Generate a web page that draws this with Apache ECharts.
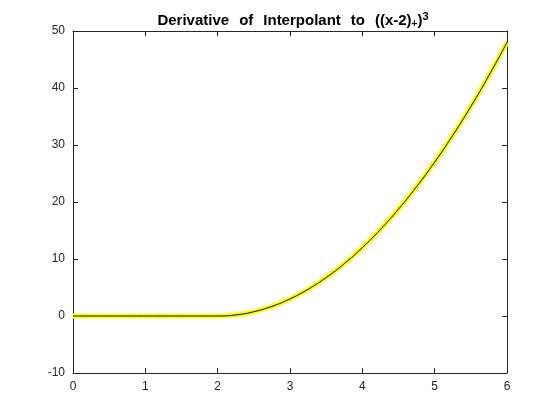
<!DOCTYPE html>
<html>
<head>
<meta charset="utf-8">
<script src="https://cdn.jsdelivr.net/npm/echarts@6/dist/echarts.min.js"></script>
<style>
  html, body { margin: 0; padding: 0; background: #fff; }
  #chart { width: 560px; height: 420px; }
</style>
</head>
<body>
<div id="chart"></div>
<script>
// x samples and the derivative values
const xs = [0, 0.25, 0.5, 0.75, 1, 1.25, 1.5, 1.75, 2, 2.25, 2.5, 2.75, 3, 3.25, 3.5, 3.75, 4, 4.25, 4.5, 4.75, 5, 5.25, 5.5, 5.75, 6];
const ys = [0, 0, 0, 0, 0, 0, 0, 0, 0, 0.19, 0.75, 1.69, 3, 4.69, 6.75, 9.19, 12, 15.19, 18.75, 22.69, 27, 31.69, 36.75, 42.19, 48];
const xTicks = [0, 1, 2, 3, 4, 5, 6];
const yTicks = [-10, 0, 10, 20, 30, 40, 50];

const pts = xs.map((x, i) => [x, ys[i]]);
const axisCol = '#262626';
const font = 'Liberation Sans, Arial, sans-serif';

const chart = echarts.init(document.getElementById('chart'));

const baseX = {
  type: 'value', min: 0, max: 6, interval: 1,
  axisLine: { show: true, onZero: false, lineStyle: { color: axisCol, width: 1 } },
  axisTick: { show: true, inside: true, length: 5, lineStyle: { color: axisCol } },
  splitLine: { show: false }
};
const baseY = {
  type: 'value', min: -10, max: 50, interval: 10,
  axisLine: { show: true, onZero: false, lineStyle: { color: axisCol, width: 1 } },
  axisTick: { show: true, inside: true, length: 5, lineStyle: { color: axisCol } },
  splitLine: { show: false }
};

chart.setOption({
  animation: false,
  title: {
    text: '{t|Derivative}{g| }{t|of}{g| }{t|Interpolant}{g| }{t|to}{g| }{t|((x-2)}{sub|+}{t|)}{sup|3}',
    left: 288, top: 6, textAlign: 'center',
    textStyle: {
      rich: {
        t: { fontFamily: font, fontSize: 15, fontWeight: 'bold', color: '#000' },
        g: { fontFamily: font, fontSize: 15, width: 10 },
        sub: { fontFamily: font, fontSize: 10, fontWeight: 'bold', color: '#000', padding: [7, 0, 0, 0] },
        sup: { fontFamily: font, fontSize: 11, color: '#000', padding: [0, 0, 9, 0] }
      }
    }
  },
  grid: { left: 73, right: 53, top: 31, bottom: 47, show: false },
  xAxis: [
    Object.assign({}, baseX, {
      position: 'bottom',
      axisLabel: { color: axisCol, fontFamily: font, fontSize: 12, margin: 8, formatter: v => xTicks.includes(v) ? v : '' }
    }),
    Object.assign({}, baseX, { position: 'top', axisLabel: { show: false } })
  ],
  yAxis: [
    Object.assign({}, baseY, {
      position: 'left',
      axisLabel: { color: axisCol, fontFamily: font, fontSize: 12, margin: 8, formatter: v => yTicks.includes(v) ? v : '' }
    }),
    Object.assign({}, baseY, { position: 'right', axisLabel: { show: false } })
  ],
  series: [
    {
      type: 'line', data: pts, smooth: true, showSymbol: false,
      lineStyle: { color: '#ffff00', width: 5 }, z: 2
    },
    {
      type: 'line', data: pts, smooth: true, showSymbol: false,
      lineStyle: { color: '#000', width: 1 }, z: 3
    }
  ]
});
</script>
</body>
</html>
